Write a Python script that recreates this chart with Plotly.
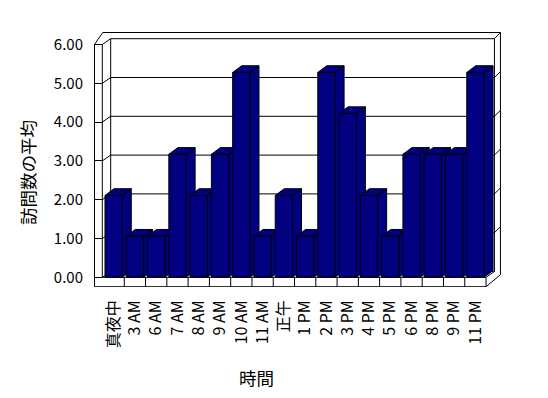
import plotly.graph_objects as go

# ---------------- data ----------------
categories = ["真夜中", "3 AM", "6 AM", "7 AM", "8 AM", "9 AM", "10 AM", "11 AM", "正午",
              "1 PM", "2 PM", "3 PM", "4 PM", "5 PM", "6 PM", "8 PM", "9 PM", "11 PM"]
avg_visits = [2.11, 1.06, 1.06, 3.17, 2.11, 3.17, 5.28, 1.06, 2.11,
              1.06, 5.28, 4.22, 2.11, 1.06, 3.17, 3.17, 3.17, 5.28]
y_tick_values = [0, 1, 2, 3, 4, 5, 6]
y_tick_labels = ["0.00", "1.00", "2.00", "3.00", "4.00", "5.00", "6.00"]
y_title = "訪問数の平均"
x_title = "時間"

# ---------------- layout geometry ----------------
PAGE_W, PAGE_H = 548, 398
OFF = 8                                     # default page body margin
W, H = PAGE_W - OFF, PAGE_H - OFF
PL, PR, PT, PB = 94, 501, 32, 287          # plot box in page pixels
CAT_PX = 21.28                              # pixels per category
UNIT_PX = 38.8                              # pixels per value unit
X0_PX = 103.0                               # front-left edge of first category
Y0_PX = 277.3                               # front floor (value 0)


def xd(px):
    return (px - X0_PX) / CAT_PX - 0.5


def yd(py):
    return (Y0_PX - py) / UNIT_PX


XR = [xd(PL), xd(PR)]
YR = [yd(PB), yd(PT)]

NAVY = "#000080"
FONT = "Noto Sans CJK JP, Noto Sans, sans-serif"

# wall depth offset (pixels) and bar depth offset
WDX, WDY = 8.4, -5.8
BDX = 9.0 / CAT_PX
BDY = 6.7 / UNIT_PX
BAR_W = 0.813

fig = go.Figure()

# ---------------- frame (walls / floor) ----------------
shapes = []


def seg(p1, p2, w=1):
    shapes.append(dict(type="line", xref="x", yref="y", layer="below",
                       x0=xd(p1[0]), y0=yd(p1[1]), x1=xd(p2[0]), y1=yd(p2[1]),
                       line=dict(color="black", width=w)))


front_top = Y0_PX - 6 * UNIT_PX
inner_left = 102.3
back_left = inner_left + WDX
front_right = X0_PX + CAT_PX * len(categories)
back_right = front_right + WDX
floor_bottom = 286.7
back_floor = Y0_PX + WDY
outer_top = front_top - 12.0
outer_right = back_right + 6.0

# left wall
seg((PL + 0.5, front_top), (PL + 0.5, floor_bottom))
seg((inner_left, front_top), (inner_left, Y0_PX))
seg((PL + 0.5, front_top), (inner_left, front_top))
seg((inner_left, front_top), (back_left, front_top + WDY))
seg((PL + 0.5, front_top), (PL + 8.7, outer_top))
seg((back_left, front_top + WDY), (back_left, back_floor))
seg((inner_left, Y0_PX), (back_left, back_floor))
# back wall top
seg((PL + 8.7, outer_top), (outer_right, outer_top))
seg((back_left, front_top + WDY), (back_right, front_top + WDY))
seg((back_right, front_top + WDY), (outer_right, outer_top))
# right edge
seg((back_right, front_top + WDY), (back_right, back_floor))
seg((outer_right, outer_top), (outer_right, floor_bottom - 12.0))
seg((outer_right, floor_bottom - 12.0), (front_right, floor_bottom))
seg((back_right, back_floor), (front_right, Y0_PX))
# floor
seg((inner_left, Y0_PX), (front_right, Y0_PX))
seg((PL + 0.5, floor_bottom), (front_right, floor_bottom))
seg((front_right, Y0_PX), (front_right, floor_bottom))
seg((back_left, back_floor), (back_right, back_floor))
for k in range(1, len(categories)):
    xp = X0_PX + CAT_PX * k
    seg((xp, Y0_PX), (xp, floor_bottom))
# gridlines on back wall and left wall
for v in y_tick_values[1:-1]:
    yf = Y0_PX - v * UNIT_PX
    seg((inner_left, yf), (back_left, yf + WDY))
    seg((back_left, yf + WDY), (back_right, yf + WDY))
    seg((back_right, yf + WDY), (outer_right, yf + WDY - 6.0))

# ---------------- bar depth faces (top + side) ----------------
for i, v in enumerate(avg_visits):
    l = i - BAR_W / 2
    r = i + BAR_W / 2
    xs = [l, r, r + BDX, l + BDX, l, None, r, r + BDX, r + BDX, r, r]
    ys = [v, v, v + BDY, v + BDY, v, None, 0, BDY, v + BDY, v, 0]
    fig.add_trace(go.Scatter(x=xs, y=ys, mode="lines", fill="toself",
                             fillcolor=NAVY, line=dict(color="black", width=1),
                             hoverinfo="skip", showlegend=False))

# ---------------- bar fronts (overlaid subplot, drawn on top) ----------------
fig.add_trace(go.Bar(x=list(range(len(categories))), y=avg_visits, width=BAR_W,
                     marker=dict(color=NAVY, line=dict(color="black", width=1)),
                     xaxis="x2", yaxis="y2", showlegend=False,
                     hovertext=categories))

fig.update_layout(
    width=W, height=H,
    margin=dict(l=PL - OFF, r=PAGE_W - PR, t=PT - OFF, b=PAGE_H - PB, pad=0),
    paper_bgcolor="white", plot_bgcolor="white",
    font=dict(family=FONT, size=15, color="black"),
    showlegend=False,
    shapes=shapes,
    xaxis=dict(range=XR, tickmode="array", tickvals=list(range(len(categories))),
               ticktext=categories, tickangle=-90, ticks="", showgrid=False,
               zeroline=False, showline=False, ticklabelstandoff=9,
               automargin=False, tickfont=dict(family=FONT, size=16)),
    yaxis=dict(range=YR, tickmode="array", tickvals=y_tick_values,
               ticktext=y_tick_labels, ticks="inside", ticklen=8, tickwidth=1,
               tickcolor="black", showgrid=False, zeroline=False, showline=False,
               ticklabelstandoff=10, automargin=False,
               tickfont=dict(family=FONT, size=15)),
    xaxis2=dict(range=XR, overlaying="x", visible=False),
    yaxis2=dict(range=YR, overlaying="y", visible=False),
    annotations=[
        dict(text=y_title, textangle=-90, xref="paper", yref="paper",
             x=(27 - PL) / (PR - PL), y=(PB - 173) / (PB - PT),
             xanchor="center", yanchor="middle", showarrow=False,
             font=dict(family=FONT, size=17.5)),
        dict(text=x_title, xref="paper", yref="paper",
             x=(256.7 - PL) / (PR - PL), y=(PB - 377.3) / (PB - PT),
             xanchor="center", yanchor="middle", showarrow=False,
             font=dict(family=FONT, size=17.5)),
    ],
)

fig.write_html("out.html")
